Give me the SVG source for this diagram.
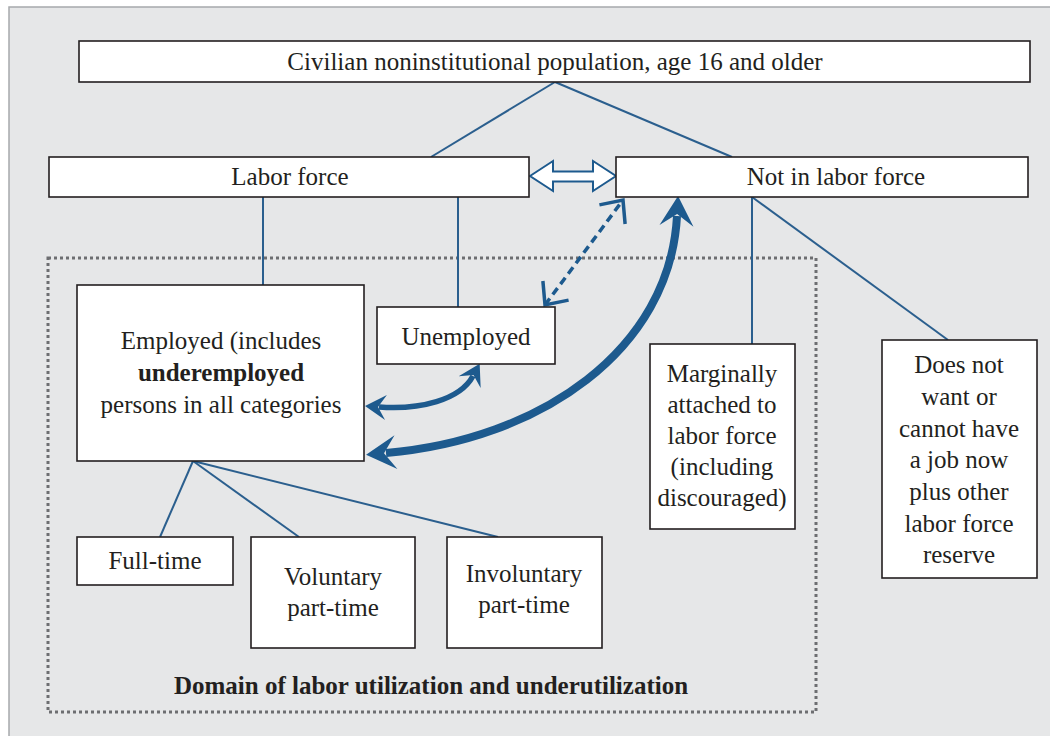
<svg xmlns="http://www.w3.org/2000/svg" width="1050" height="736" viewBox="0 0 1050 736">
<style>
.box{fill:#ffffff;stroke:#231f20;stroke-width:1.6}
.t{font-family:"Liberation Serif","Times New Roman",serif;font-size:25px;fill:#231f20;text-anchor:middle}
.b{font-weight:bold}
.ln{stroke:#2b5f8e;stroke-width:2;fill:none}
.arr{stroke:#1d5a8e;fill:none}
</style>
<defs>
<marker id="bigHead" markerUnits="userSpaceOnUse" markerWidth="40" markerHeight="40" viewBox="-2 -20 36 40" refX="10" refY="0" orient="auto-start-reverse">
<path d="M30,0 L0,-17 L12,0 L0,17 Z" fill="#1d5a8e"/>
</marker>
<marker id="smallHead" markerUnits="userSpaceOnUse" markerWidth="30" markerHeight="30" viewBox="-2 -15 26 30" refX="7" refY="0" orient="auto-start-reverse">
<path d="M21,0 L0,-12.5 L8,0 L0,12.5 Z" fill="#1d5a8e"/>
</marker>
<marker id="openHead" markerUnits="userSpaceOnUse" markerWidth="30" markerHeight="40" viewBox="-22 -20 26 40" refX="0" refY="0" orient="auto-start-reverse">
<path d="M-18,-16 L0,0 L-18,16" fill="none" stroke="#1d5a8e" stroke-width="3.5"/>
</marker>
</defs>
<rect x="0" y="0" width="1050" height="736" fill="#ffffff"/>
<rect x="9" y="7" width="1045" height="735" fill="#e6e7e8" stroke="#a7a9ac" stroke-width="1.5"/>
<rect x="48" y="258" width="768" height="454" fill="none" stroke="#6d6e71" stroke-width="3" stroke-dasharray="3 3"/>
<text class="t b" x="431" y="694">Domain of labor utilization and underutilization</text>
<g id="connectors">
<line class="ln" x1="555" y1="82" x2="431" y2="157"/>
<line class="ln" x1="555" y1="82" x2="732" y2="157"/>
<line class="ln" x1="263" y1="197" x2="263" y2="285"/>
<line class="ln" x1="458" y1="197" x2="458" y2="307"/>
<line class="ln" x1="752" y1="197" x2="752" y2="344"/>
<line class="ln" x1="752" y1="197" x2="948" y2="340"/>
<line class="ln" x1="193" y1="461" x2="160" y2="537"/>
<line class="ln" x1="193" y1="461" x2="299" y2="537"/>
<line class="ln" x1="193" y1="461" x2="498" y2="537"/>
<polygon points="530,176 553,161 553,171.5 593,171.5 593,161 616,176 593,191 593,181.5 553,181.5 553,191" fill="#ffffff" stroke="#1d5a8e" stroke-width="2" stroke-linejoin="miter"/>
<line class="arr" x1="545" y1="305" x2="623" y2="200" stroke-width="3.5" stroke-dasharray="8 5" marker-start="url(#openHead)" marker-end="url(#openHead)"/>
<path class="arr" d="M379,407 C420,410 460,400 473,376" stroke-width="5.5" marker-start="url(#smallHead)" marker-end="url(#smallHead)"/>
<path class="arr" d="M386,453 C540,440 670,350 677,216" stroke-width="8" marker-start="url(#bigHead)" marker-end="url(#bigHead)"/>
</g>
<g id="population">
<rect class="box" x="79" y="41" width="951" height="41"/>
<text class="t" x="555" y="70">Civilian noninstitutional population, age 16 and older</text>
</g>
<g id="labor-force">
<rect class="box" x="49" y="157" width="480" height="40"/>
<text class="t" x="290" y="185">Labor force</text>
</g>
<g id="not-in-labor-force">
<rect class="box" x="616" y="157" width="412" height="40"/>
<text class="t" x="836" y="185">Not in labor force</text>
</g>
<g id="employed">
<rect class="box" x="77" y="285" width="287" height="176"/>
<text class="t" x="221" y="349">Employed (includes</text>
<text class="t b" x="221" y="381">underemployed</text>
<text class="t" x="221" y="413">persons in all categories</text>
</g>
<g id="unemployed">
<rect class="box" x="377" y="307" width="178" height="57"/>
<text class="t" x="466" y="345">Unemployed</text>
</g>
<g id="marginally-attached">
<rect class="box" x="650" y="344" width="145" height="185"/>
<text class="t" x="722" y="382">Marginally</text>
<text class="t" x="722" y="413">attached to</text>
<text class="t" x="722" y="444">labor force</text>
<text class="t" x="722" y="475">(including</text>
<text class="t" x="722" y="506">discouraged)</text>
</g>
<g id="does-not-want">
<rect class="box" x="882" y="340" width="155" height="238"/>
<text class="t" x="959" y="373">Does not</text>
<text class="t" x="959" y="405">want or</text>
<text class="t" x="959" y="437">cannot have</text>
<text class="t" x="959" y="468">a job now</text>
<text class="t" x="959" y="500">plus other</text>
<text class="t" x="959" y="532">labor force</text>
<text class="t" x="959" y="563">reserve</text>
</g>
<g id="full-time">
<rect class="box" x="77" y="537" width="156" height="48"/>
<text class="t" x="155" y="569">Full-time</text>
</g>
<g id="voluntary">
<rect class="box" x="251" y="537" width="164" height="111"/>
<text class="t" x="333" y="585">Voluntary</text>
<text class="t" x="333" y="616">part-time</text>
</g>
<g id="involuntary">
<rect class="box" x="447" y="537" width="155" height="111"/>
<text class="t" x="524" y="582">Involuntary</text>
<text class="t" x="524" y="613">part-time</text>
</g>
</svg>
